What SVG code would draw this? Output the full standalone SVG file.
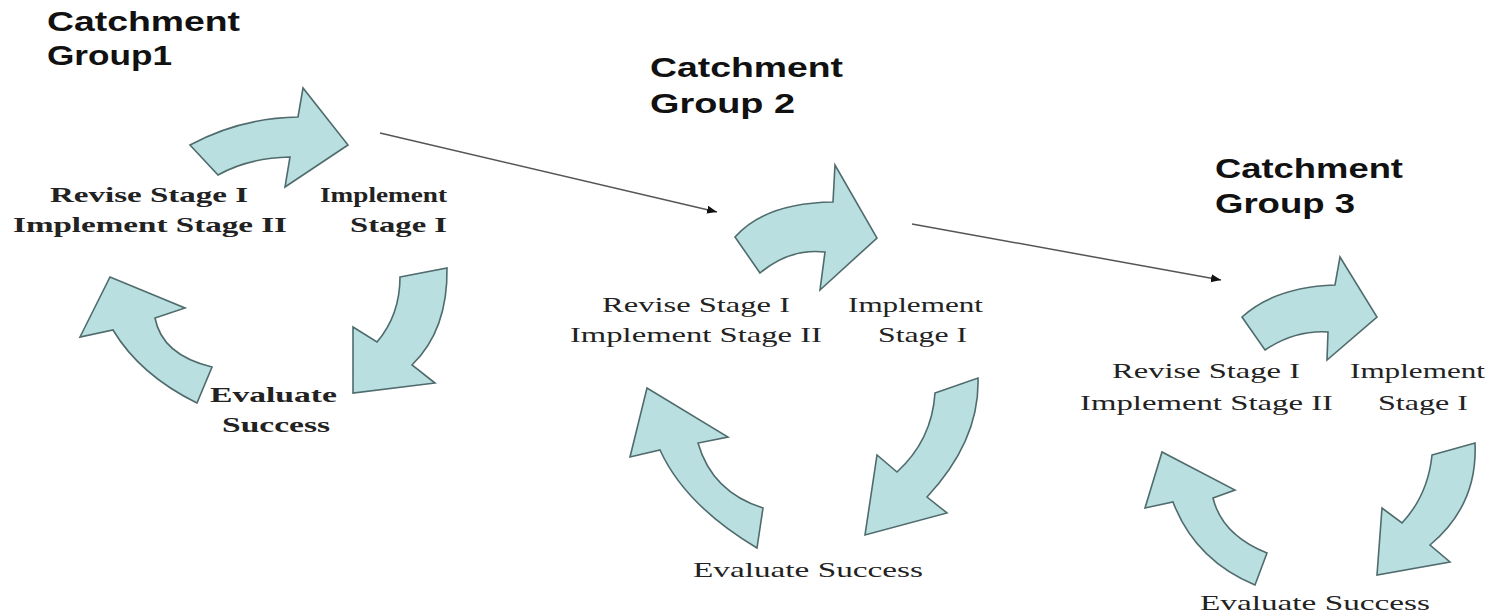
<svg xmlns="http://www.w3.org/2000/svg" width="1493" height="616" viewBox="0 0 1493 616">
<style>
.arr{fill:#B9DFE1;stroke:#4F6B6C;stroke-width:1.6;stroke-linejoin:miter}
.title{font-family:"Liberation Sans",Arial,sans-serif;font-weight:bold;font-size:28px;fill:#111}
.lb{font-family:"Liberation Serif","Times New Roman",serif;font-weight:bold;font-size:22px;fill:#222}
.lr{font-family:"Liberation Serif","Times New Roman",serif;font-size:22px;fill:#222}
.conn{stroke:#555;stroke-width:1.5;fill:none}
</style>
<defs>
<marker id="ah" markerUnits="userSpaceOnUse" markerWidth="12" markerHeight="10" refX="10" refY="5" orient="auto">
<path d="M0,1 L10,5 L0,9 Z" fill="#111"/>
</marker>
</defs>
<rect width="1493" height="616" fill="#fff"/>
<g id="group1">
<text class="title" x="47" y="31" textLength="193" lengthAdjust="spacingAndGlyphs">Catchment</text>
<text class="title" x="47" y="65" textLength="125" lengthAdjust="spacingAndGlyphs">Group1</text>
<path class="arr" d="M190,145 Q240,118 298,117 L303,88 L348,145 L285,187 L290,157 Q248,158 218,175 Z"/>
<path class="arr" d="M400,277 L447,268 Q448,330 412,365 L435,383 L353,393 L353,327 L377,342 Q400,315 400,277 Z"/>
<path class="arr" d="M197,403 Q140,375 113,330 L80,337 L110,277 L185,308 L155,318 Q162,355 212,367 Z"/>
<text class="lb" x="50" y="202" textLength="198" lengthAdjust="spacingAndGlyphs">Revise Stage I</text>
<text class="lb" x="13" y="232" textLength="274" lengthAdjust="spacingAndGlyphs">Implement Stage II</text>
<text class="lb" x="320" y="202" textLength="127" lengthAdjust="spacingAndGlyphs">Implement</text>
<text class="lb" x="350" y="232" textLength="97" lengthAdjust="spacingAndGlyphs">Stage I</text>
<text class="lb" x="210" y="402" textLength="127" lengthAdjust="spacingAndGlyphs">Evaluate</text>
<text class="lb" x="222" y="432" textLength="108" lengthAdjust="spacingAndGlyphs">Success</text>
</g>
<g id="group2">
<text class="title" x="650" y="77" textLength="193" lengthAdjust="spacingAndGlyphs">Catchment</text>
<text class="title" x="650" y="113" textLength="145" lengthAdjust="spacingAndGlyphs">Group 2</text>
<path class="arr" d="M735,237 Q765,203 833,202 L835,165 L877,238 L820,290 L825,252 Q790,248 760,273 Z"/>
<path class="arr" d="M935,393 L978,378 Q980,440 927,497 L947,513 L865,535 L877,455 L897,472 Q932,440 935,393 Z"/>
<path class="arr" d="M757,548 Q685,505 660,450 L630,457 L647,388 L728,437 L698,443 Q712,492 763,508 Z"/>
<text class="lr" x="602" y="312" textLength="188" lengthAdjust="spacingAndGlyphs">Revise Stage I</text>
<text class="lr" x="570" y="342" textLength="252" lengthAdjust="spacingAndGlyphs">Implement Stage II</text>
<text class="lr" x="848" y="312" textLength="135" lengthAdjust="spacingAndGlyphs">Implement</text>
<text class="lr" x="878" y="342" textLength="89" lengthAdjust="spacingAndGlyphs">Stage I</text>
<text class="lr" x="693" y="577" textLength="230" lengthAdjust="spacingAndGlyphs">Evaluate Success</text>
</g>
<g id="group3">
<text class="title" x="1215" y="178" textLength="188" lengthAdjust="spacingAndGlyphs">Catchment</text>
<text class="title" x="1215" y="213" textLength="140" lengthAdjust="spacingAndGlyphs">Group 3</text>
<path class="arr" d="M1242,317 Q1275,287 1335,285 L1340,257 L1377,317 L1327,360 L1328,332 Q1295,330 1265,350 Z"/>
<path class="arr" d="M1432,455 L1475,443 Q1478,505 1430,545 L1450,562 L1377,575 L1382,508 L1402,523 Q1428,495 1432,455 Z"/>
<path class="arr" d="M1255,585 Q1195,560 1173,502 L1145,508 L1162,452 L1235,490 L1213,498 Q1222,535 1267,553 Z"/>
<text class="lr" x="1112" y="378" textLength="188" lengthAdjust="spacingAndGlyphs">Revise Stage I</text>
<text class="lr" x="1080" y="410" textLength="253" lengthAdjust="spacingAndGlyphs">Implement Stage II</text>
<text class="lr" x="1350" y="378" textLength="135" lengthAdjust="spacingAndGlyphs">Implement</text>
<text class="lr" x="1378" y="410" textLength="90" lengthAdjust="spacingAndGlyphs">Stage I</text>
<text class="lr" x="1200" y="610" textLength="230" lengthAdjust="spacingAndGlyphs">Evaluate Success</text>
</g>
<g id="connectors">
<line class="conn" x1="380" y1="133" x2="717" y2="212" marker-end="url(#ah)"/>
<line class="conn" x1="912" y1="224" x2="1221" y2="280" marker-end="url(#ah)"/>
</g>
</svg>
